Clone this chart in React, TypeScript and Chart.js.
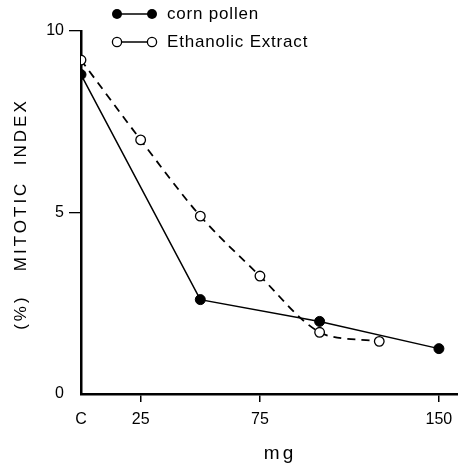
import React, { useEffect, useRef } from 'react';
import { Chart, registerables } from 'chart.js';

Chart.register(...registerables);

// ---- data ----
const pollenX = [0, 50, 100, 150];
const pollenY = [8.8, 2.6, 2.0, 1.25];
const extractX = [0, 25, 50, 75, 100, 125];
const extractY = [9.2, 7.0, 4.9, 3.25, 1.7, 1.45];
const xTickValues = [0, 25, 75, 150];
const xTickLabels = ['C', '25', '75', '150'];
const yTickValues = [0, 5, 10];
const seriesNames = ['corn pollen', 'Ethanolic Extract'];
const xTitle = 'mg';
const yTitle = '(%)   MITOTIC  INDEX';

const FONT = 'Liberation Sans';

const customText = {
  id: 'customText',
  afterDraw(chart: any) {
    const ctx = chart.ctx as CanvasRenderingContext2D;
    ctx.save();
    ctx.fillStyle = '#000';
    ctx.strokeStyle = '#000';

    // legend
    const rows = [
      { y: 14, fill: true, name: seriesNames[0], base: 19 },
      { y: 42, fill: false, name: seriesNames[1], base: 47 },
    ];
    rows.forEach((r) => {
      const x1 = 117;
      const x2 = 152;
      ctx.lineWidth = 1.5;
      ctx.beginPath();
      ctx.moveTo(x1, r.y);
      ctx.lineTo(x2, r.y);
      ctx.stroke();
      [x1, x2].forEach((cx) => {
        ctx.beginPath();
        ctx.arc(cx, r.y, r.fill ? 5 : 4.6, 0, Math.PI * 2);
        if (r.fill) {
          ctx.fillStyle = '#000';
          ctx.fill();
        } else {
          ctx.fillStyle = '#fff';
          ctx.fill();
          ctx.lineWidth = 1.3;
          ctx.stroke();
        }
      });
      ctx.fillStyle = '#000';
      ctx.font = `17px "${FONT}"`;
      (ctx as any).letterSpacing = '0.8px';
      ctx.textAlign = 'left';
      ctx.textBaseline = 'alphabetic';
      ctx.fillText(r.name, 167, r.base);
    });

    // y title
    ctx.save();
    ctx.translate(21, 214);
    ctx.rotate(-Math.PI / 2);
    ctx.font = `17px "${FONT}"`;
    (ctx as any).letterSpacing = '3px';
    ctx.textAlign = 'center';
    ctx.textBaseline = 'middle';
    ctx.fillText(yTitle, 0, 0);
    ctx.restore();

    // x title
    ctx.font = `19px "${FONT}"`;
    (ctx as any).letterSpacing = '3px';
    ctx.textAlign = 'center';
    ctx.textBaseline = 'alphabetic';
    ctx.fillText(xTitle, 280, 459);

    ctx.restore();
  },
};

export default function App() {
  const ref = useRef<HTMLCanvasElement | null>(null);

  useEffect(() => {
    if (!ref.current) return;
    const chart = new Chart(ref.current, {
      type: 'line',
      data: {
        datasets: [
          {
            label: seriesNames[0],
            data: pollenX.map((x, i) => ({ x, y: pollenY[i] })),
            borderColor: '#000',
            borderWidth: 1.5,
            tension: 0,
            pointRadius: 5,
            pointBackgroundColor: '#000',
            pointBorderColor: '#000',
            pointBorderWidth: 1,
            fill: false,
          },
          {
            label: seriesNames[1],
            data: extractX.map((x, i) => ({ x, y: extractY[i] })),
            borderColor: '#000',
            borderWidth: 1.8,
            borderDash: [8, 6],
            tension: 0.3,
            pointRadius: 4.8,
            pointBackgroundColor: '#fff',
            pointBorderColor: '#000',
            pointBorderWidth: 1.3,
            fill: false,
          },
        ],
      },
      options: {
        animation: false,
        responsive: false,
        maintainAspectRatio: false,
        devicePixelRatio: 1,
        layout: { autoPadding: false, padding: { top: 31, right: 0, bottom: 0, left: 0 } },
        plugins: {
          legend: { display: false },
          tooltip: { enabled: false },
        },
        scales: {
          x: {
            type: 'linear',
            min: 0,
            max: 158,
            afterBuildTicks: (scale: any) => {
              scale.ticks = xTickValues.map((v) => ({ value: v }));
            },
            afterFit: (scale: any) => {
              scale.height = 69;
            },
            ticks: {
              autoSkip: false,
              maxRotation: 0,
              padding: 5,
              color: '#000',
              font: { family: FONT, size: 16, lineHeight: 1.575 },
              callback: (v: any) => {
                const i = xTickValues.indexOf(Number(v));
                return i >= 0 ? xTickLabels[i] : '';
              },
            },
            grid: {
              drawOnChartArea: false,
              drawTicks: true,
              tickLength: 8,
              lineWidth: 1.5,
              color: (c: any) => (c.tick && c.tick.value === 0 ? 'rgba(0,0,0,0)' : '#000'),
            },
            border: { display: true, color: '#000', width: 2.5 },
          },
          y: {
            type: 'linear',
            min: 0,
            max: 10,
            afterBuildTicks: (scale: any) => {
              scale.ticks = yTickValues.map((v) => ({ value: v }));
            },
            afterFit: (scale: any) => {
              scale.width = 81;
            },
            ticks: {
              padding: 5,
              color: '#000',
              font: { family: FONT, size: 16 },
              callback: (v: any) => String(v),
            },
            grid: {
              drawOnChartArea: false,
              drawTicks: true,
              tickLength: 12,
              lineWidth: 1.3,
              color: (c: any) => (c.tick && c.tick.value === 0 ? 'rgba(0,0,0,0)' : '#000'),
            },
            border: { display: true, color: '#000', width: 2.5 },
          },
        },
      },
      plugins: [customText],
    } as any);
    return () => chart.destroy();
  }, []);

  return (
    <canvas
      ref={ref}
      width={458}
      height={463}
      style={{ position: 'absolute', left: 0, top: 0, width: 458, height: 463, display: 'block' }}
    />
  );
}
